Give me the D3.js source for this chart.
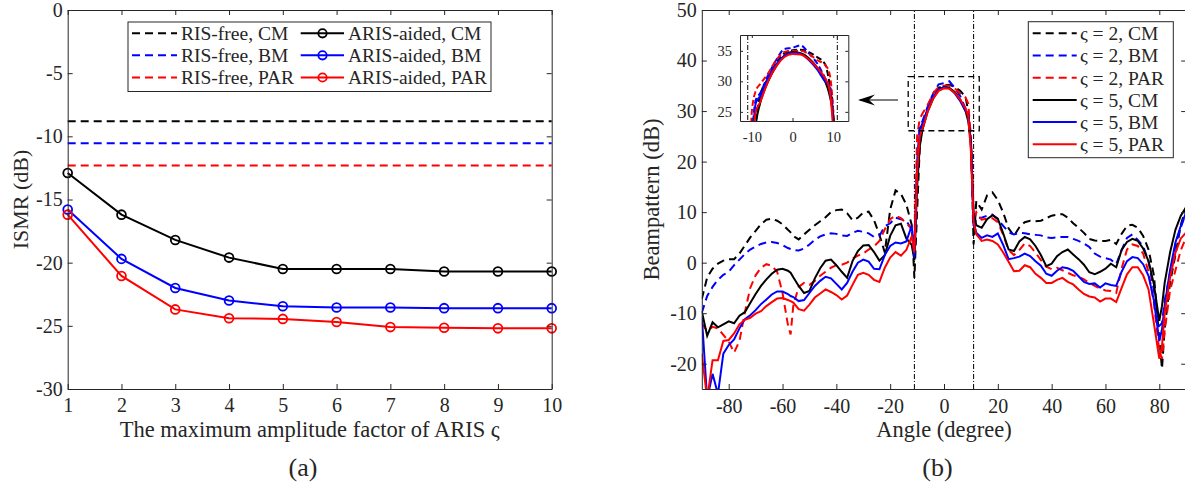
<!DOCTYPE html>
<html>
<head>
<meta charset="utf-8">
<script src="https://cdnjs.cloudflare.com/ajax/libs/d3/7.8.5/d3.min.js"></script>
<style>
body { margin: 0; background: #fff; }
svg, text { font-family: "Liberation Serif", "Times New Roman", serif; }
text { fill: #262626; }
</style>
</head>
<body>
<script>
// ---- (a) ISMR vs maximum amplitude factor ----
var amp = [1, 2, 3, 4, 5, 6, 7, 8, 9, 10];
var freeCM = -8.8, freeBM = -10.55, freePAR = -12.3;
var arisCM  = [-12.9, -16.2, -18.2, -19.6, -20.5, -20.5, -20.5, -20.7, -20.7, -20.7];
var arisBM  = [-15.8, -19.7, -22.0, -23.0, -23.45, -23.55, -23.55, -23.6, -23.6, -23.6];
var arisPAR = [-16.2, -21.05, -23.7, -24.4, -24.45, -24.7, -25.1, -25.15, -25.2, -25.2];
var ticksA_x = [1, 2, 3, 4, 5, 6, 7, 8, 9, 10];
var ticksA_y = [-30, -25, -20, -15, -10, -5, 0];

// ---- (b) beampattern (dB) vs angle ----
var angle = [-90,-88,-86,-84,-82,-80,-78,-76,-74,-72,-70,-68,-66,-64,-62,-60,-58,-57,-56,-54,-52,-50,-48,-46,-44,-42,-40,-38,-36,-34,-32,-30,-28,-26,-24,-22,-20,-18,-16,-14,-12,-11,-10,-9,-8,-6,-4,-2,0,2,4,6,8,9,10,11,12,14,16,18,20,22,24,26,28,30,32,34,36,38,40,42,44,46,48,50,52,54,56,58,60,62,64,66,68,70,72,74,76,78,80,81,82,84,86,88,90];
var s2CM  = [-7.2,-2.9,-1.2,-0.2,0.4,0.7,0.7,1.8,3.4,5.0,6.3,7.6,8.5,8.7,8.3,7.6,6.5,6.0,5.3,4.6,5.6,6.5,7.4,8.2,9.0,10.0,10.4,10.5,9.8,8.4,8.9,9.9,10.1,8.4,5.5,2.0,10.5,14.3,13.6,11.5,7.5,-3.0,10,23,27.5,30.5,33,34.6,35.1,35.2,34.8,34.0,32.8,30,25,3.6,12.2,10.5,13.3,13.9,12.4,9.9,6.8,5.3,7.0,8.0,8.3,8.2,8.3,8.8,9.3,9.5,9.6,8.9,7.8,6.9,5.9,4.7,4.4,4.3,4.3,4.5,3.7,5.7,7.3,7.5,6.9,5.3,2.6,-2.5,-15,-21,-13,-4,1.5,7.5,11];
var s2BM  = [-9.9,-6.6,-4.8,-3.4,-2.4,-1.8,-0.5,0.6,1.7,2.6,3.2,3.7,4.0,4.1,3.9,3.5,2.9,2.7,2.5,2.4,2.8,3.6,4.5,5.2,5.6,5.8,5.7,5.4,5.3,5.9,6.3,6.1,5.8,5.1,5.3,7.2,7.8,8.9,8.6,8.3,6.5,2.6,20,27,28,31,33.5,35.3,35.5,35.9,34.6,33,30.5,29,24,6.6,8.9,8.9,9.3,9.5,8.6,7.3,6.0,5.6,5.9,5.8,5.6,5.5,5.4,5.0,4.9,5.0,5.1,5.1,4.7,4.3,3.8,3.1,1.8,1.2,0.9,0.6,-0.3,2.5,4.9,5.6,4.5,3.3,0.3,-5.5,-12.5,-12,-7.5,-2,3.5,7,10];
var s2PAR = [-12,-13.5,-12.7,-13,-14.3,-15.6,-17.8,-15.5,-9.8,-5,-2.5,-1,-0.3,-0.6,-1.8,-6,-12.3,-14.2,-8.5,-4.8,-4,-4.4,-3.6,-2.6,-1.8,-1,-0.5,-0.4,0,0.8,1.4,1.8,2.6,3.2,4.3,6.6,8.6,9.3,8.8,7.8,6.7,3,25,28.5,29.5,31.3,33.5,34.8,35,35,34.5,33.5,32.7,31.5,25,8,10,8.5,8.7,8.8,8,5.5,2.5,1.5,2.5,3.8,3.3,2,0.5,-0.8,-1.3,-1,-1.5,-2,-2.5,-2.8,-3.3,-4,-4.6,-5.1,-5.5,-5.6,-6,-1.2,2.6,3.6,3.3,1.8,-1.8,-8,-17.5,-19,-13.5,-5.5,-1.5,2.5,5];
var s5CM  = [-9.6,-14.5,-11.8,-12.8,-12.2,-11.6,-12.0,-10.5,-9.8,-8.0,-6.2,-4.6,-3.3,-2.2,-1.4,-1.2,-1.6,-2.0,-2.9,-4.6,-6.0,-5.6,-3.1,-1.1,0.4,0.6,-0.5,-1.8,-3.0,0.3,2.3,3.4,3.5,2.1,0.4,1.5,5.3,7.4,7.7,4.8,3.5,0.5,15,23,26.3,30,32.5,34.2,34.8,34.6,33.8,32.3,30,28,24,10,7.4,6.9,8.6,9.4,8.7,5.8,2.6,2.3,4.2,5.1,4.6,3.3,1.5,-0.7,-0.2,1.3,2.1,2.6,1.6,0.7,-0.4,-1.9,-2.3,-1.8,-1.2,-0.2,-0.9,2.5,4.1,4.7,4.3,2.8,0.3,-4.3,-11.5,-8.6,-4,2,6.5,9.3,11];
var s5BM  = [-10.6,-27,-22,-26,-18,-16.3,-15.2,-13,-11.2,-10.4,-9.4,-8.2,-7.3,-6.3,-5.7,-5.7,-6.2,-6.6,-6.8,-7.6,-7.4,-6,-4.6,-3.6,-2.8,-3.1,-4.2,-5.3,-4,-1.8,0,0.6,0.2,-1.2,-1.3,1.5,3.3,4,3.8,4.2,7.3,1,18,26.5,27.5,30.5,32.8,34.2,34.7,34.5,33.5,32,30,29.3,23,8,5.9,4.9,5.4,5.1,5.8,3.5,0.7,0.9,1.2,1.8,1.3,0.3,-0.6,-2.2,-2.6,-1.6,-0.9,-1.1,-1.6,-2.7,-3.8,-4.2,-4.1,-4.9,-4.1,-4.4,-4.6,-1.8,0.3,1.1,0.9,-0.3,-2.6,-7.5,-15.5,-13.2,-8.5,-1.5,4,7.3,10];
var s5PAR = [-18,-27,-19.3,-19.3,-15.5,-15.3,-14,-12.2,-11.3,-10.9,-10.1,-9.6,-8.6,-7.8,-7.1,-7,-7.4,-7.6,-7.9,-9.2,-9.5,-8.3,-6.9,-6.1,-5.3,-5.8,-6.4,-7.3,-6.5,-4.4,-2.4,-2,-2.4,-3.4,-3.8,-1,1,2.1,1.4,2.5,5.2,2,18,25,26.5,30,32.5,34,34.5,34.4,33.6,32.3,30.5,29,22,8,5.6,4.3,4.6,4.3,3.6,2,0.2,-1.7,-1.6,-0.5,-0.9,-2.2,-3,-4,-4,-3.4,-3,-3.8,-4.3,-5.3,-6.2,-6.7,-6.9,-7.7,-7.1,-7.1,-7.8,-5,-2.3,-0.9,-0.9,-2.5,-5.3,-12,-19,-16.5,-10,-3,2,4.8,6];
var ticksB_x = [-80, -60, -40, -20, 0, 20, 40, 60, 80];
var ticksB_y = [-20, -10, 0, 10, 20, 30, 40, 50];
var ticksI_x = [-10, 0, 10];
var ticksI_y = [25, 30, 35];
var edges = [-11, 11];
var zoomBox = [-13.3, 13.1, 26.1, 36.8];

var svg = d3.select("body").append("svg").attr("width", 1185).attr("height", 486);
var axisColor = "#262626";
var serif = "'Liberation Serif', 'Times New Roman', serif";

function label(d) { return String(d); }

// box axes with inward ticks on all four sides
function boxAxes(g, x, y, xt, yt, fs, tl, xpad, ypad) {
  var x0 = x.range()[0], x1 = x.range()[1], y0 = y.range()[0], y1 = y.range()[1];
  var parts = [
    [d3.axisBottom(x).tickValues(xt).tickFormat(label).tickPadding(xpad), "translate(0," + y0 + ")"],
    [d3.axisTop(x).tickValues(xt).tickFormat(""), "translate(0," + y1 + ")"],
    [d3.axisLeft(y).tickValues(yt).tickFormat(label).tickPadding(ypad), "translate(" + x0 + ",0)"],
    [d3.axisRight(y).tickValues(yt).tickFormat(""), "translate(" + x1 + ",0)"]
  ];
  parts.forEach(function(p) {
    var a = g.append("g").attr("transform", p[1])
      .call(p[0].tickSizeInner(-tl).tickSizeOuter(0));
    a.attr("color", axisColor).attr("font-size", fs).attr("font-family", serif);
    a.selectAll("path,line").attr("stroke-width", 1);
  });
}

var colors = ["#000000", "#0000ff", "#ff0000"];

// ---------------- panel (a) ----------------
var xa = d3.scaleLinear().domain([1, 10]).range([67.7, 551.7]);
var ya = d3.scaleLinear().domain([-30, 0]).range([389, 10]);
var ga = svg.append("g");

[freeCM, freeBM, freePAR].forEach(function(v, i) {
  ga.append("line")
    .attr("x1", xa(1)).attr("x2", xa(10)).attr("y1", ya(v)).attr("y2", ya(v))
    .attr("stroke", colors[i]).attr("stroke-width", 2).attr("stroke-dasharray", "8,5");
});

var lineA = d3.line().x(function(d, i) { return xa(amp[i]); }).y(function(d) { return ya(d); });
[arisCM, arisBM, arisPAR].forEach(function(s, i) {
  ga.append("path").attr("d", lineA(s)).attr("fill", "none")
    .attr("stroke", colors[i]).attr("stroke-width", 2);
  ga.selectAll(null).data(s).enter().append("circle")
    .attr("cx", function(d, j) { return xa(amp[j]); })
    .attr("cy", function(d) { return ya(d); })
    .attr("r", 4.4).attr("fill", "none").attr("stroke", colors[i]).attr("stroke-width", 1.8);
});

boxAxes(ga, xa, ya, ticksA_x, ticksA_y, "20px", 5, 9, 5);

// legend (a)
var legA = ga.append("g");
legA.append("rect").attr("x", 128).attr("y", 22).attr("width", 363).attr("height", 69.5)
  .attr("fill", "#fff").attr("stroke", axisColor).attr("stroke-width", 1);
var freeNames = ["RIS-free, CM", "RIS-free, BM", "RIS-free, PAR"];
var arisNames = ["ARIS-aided, CM", "ARIS-aided, BM", "ARIS-aided, PAR"];
[33.3, 55.3, 77.5].forEach(function(yy, i) {
  legA.append("line").attr("x1", 132).attr("x2", 177).attr("y1", yy).attr("y2", yy)
    .attr("stroke", colors[i]).attr("stroke-width", 2).attr("stroke-dasharray", "8,5");
  legA.append("text").attr("x", 181).attr("y", yy).attr("dy", "0.35em").attr("font-size", "19.5px").text(freeNames[i]);
  legA.append("line").attr("x1", 300.7).attr("x2", 344).attr("y1", yy).attr("y2", yy)
    .attr("stroke", colors[i]).attr("stroke-width", 2);
  legA.append("circle").attr("cx", 322.5).attr("cy", yy).attr("r", 4.2)
    .attr("fill", "none").attr("stroke", colors[i]).attr("stroke-width", 1.8);
  legA.append("text").attr("x", 348).attr("y", yy).attr("dy", "0.35em").attr("font-size", "19.5px").text(arisNames[i]);
});

ga.append("text").attr("transform", "translate(28,199.5) rotate(-90)")
  .attr("text-anchor", "middle").attr("font-size", "22px").text("ISMR (dB)");
ga.append("text").attr("x", 309.7).attr("y", 437)
  .attr("text-anchor", "middle").attr("font-size", "22.5px").text("The maximum amplitude factor of ARIS ς");
ga.append("text").attr("x", 303).attr("y", 476)
  .attr("text-anchor", "middle").attr("font-size", "26px").text("(a)");

// ---------------- panel (b) ----------------
var xb = d3.scaleLinear().domain([-90, 90]).range([701.8, 1186.2]);
var yb = d3.scaleLinear().domain([-25, 50]).range([389, 10]);
var gb = svg.append("g");

var defs = svg.append("defs");
defs.append("clipPath").attr("id", "clipB").append("rect")
  .attr("x", 701.8).attr("y", 10).attr("width", 484.4).attr("height", 379);

var series = [s2CM, s2BM, s2PAR, s5CM, s5BM, s5PAR];
var sColor = ["#000000", "#0000ff", "#ff0000", "#000000", "#0000ff", "#ff0000"];
var sDash = ["8,5", "8,5", "8,5", null, null, null];
var sNames = ["ς = 2, CM", "ς = 2, BM", "ς = 2, PAR", "ς = 5, CM", "ς = 5, BM", "ς = 5, PAR"];

var plotB = gb.append("g").attr("clip-path", "url(#clipB)");
edges.forEach(function(e) {
  plotB.append("line").attr("x1", xb(e)).attr("x2", xb(e)).attr("y1", yb(-25)).attr("y2", yb(50))
    .attr("stroke", "#000").attr("stroke-width", 1).attr("stroke-dasharray", "5,2,1,2");
});
var lineB = d3.line().x(function(d, i) { return xb(angle[i]); }).y(function(d) { return yb(d); });
series.forEach(function(s, i) {
  plotB.append("path").attr("d", lineB(s)).attr("fill", "none")
    .attr("stroke", sColor[i]).attr("stroke-width", 2)
    .attr("stroke-dasharray", sDash[i]);
});

// dashed zoom box and arrow
gb.append("rect")
  .attr("x", xb(zoomBox[0])).attr("y", yb(zoomBox[3]))
  .attr("width", xb(zoomBox[1]) - xb(zoomBox[0])).attr("height", yb(zoomBox[2]) - yb(zoomBox[3]))
  .attr("fill", "none").attr("stroke", "#000").attr("stroke-width", 1.3).attr("stroke-dasharray", "6,4");
gb.append("line").attr("x1", 898).attr("x2", 860).attr("y1", 100).attr("y2", 100)
  .attr("stroke", "#000").attr("stroke-width", 1.2);
gb.append("path").attr("d", "M858,100 L875,94.5 L869,100 L875,105.5 Z").attr("fill", "#000");

boxAxes(gb, xb, yb, ticksB_x, ticksB_y, "20px", 5, 10, 5);

// legend (b)
var legB = gb.append("g");
legB.append("rect").attr("x", 1028.3).attr("y", 21.7).attr("width", 145).attr("height", 136)
  .attr("fill", "#fff").attr("stroke", axisColor).attr("stroke-width", 1);
sNames.forEach(function(n, i) {
  var yy = 33.3 + i * 22.2;
  legB.append("line").attr("x1", 1032.7).attr("x2", 1076.7).attr("y1", yy).attr("y2", yy)
    .attr("stroke", sColor[i]).attr("stroke-width", 2).attr("stroke-dasharray", sDash[i]);
  legB.append("text").attr("x", 1080).attr("y", yy).attr("dy", "0.35em").attr("font-size", "19.5px").text(n);
});

gb.append("text").attr("transform", "translate(659,199.5) rotate(-90)")
  .attr("text-anchor", "middle").attr("font-size", "22.5px").text("Beampattern (dB)");
gb.append("text").attr("x", 944).attr("y", 437)
  .attr("text-anchor", "middle").attr("font-size", "22.5px").text("Angle (degree)");
gb.append("text").attr("x", 937.5).attr("y", 476)
  .attr("text-anchor", "middle").attr("font-size", "26px").text("(b)");

// ---------------- inset ----------------
var xi = d3.scaleLinear().domain([-12.9, 13.7]).range([740, 848.3]);
var yi = d3.scaleLinear().domain([23.5, 37.6]).range([121, 35]);
var gi = svg.append("g");
defs.append("clipPath").attr("id", "clipI").append("rect")
  .attr("x", 740).attr("y", 35).attr("width", 108.3).attr("height", 86);
gi.append("rect").attr("x", 740).attr("y", 35).attr("width", 108.3).attr("height", 86).attr("fill", "#fff");
var plotI = gi.append("g").attr("clip-path", "url(#clipI)");
edges.forEach(function(e) {
  plotI.append("line").attr("x1", xi(e)).attr("x2", xi(e)).attr("y1", 35).attr("y2", 121)
    .attr("stroke", "#000").attr("stroke-width", 1).attr("stroke-dasharray", "5,2,1,2");
});
var lineI = d3.line().curve(d3.curveMonotoneX)
  .x(function(d, i) { return xi(angle[i]); }).y(function(d) { return yi(d); });
series.forEach(function(s, i) {
  plotI.append("path").attr("d", lineI(s)).attr("fill", "none")
    .attr("stroke", sColor[i]).attr("stroke-width", 2)
    .attr("stroke-dasharray", sDash[i] ? "6,3" : null);
});
boxAxes(gi, xi, yi, ticksI_x, ticksI_y, "14.5px", 3, 11, 8);
</script>
</body>
</html>
